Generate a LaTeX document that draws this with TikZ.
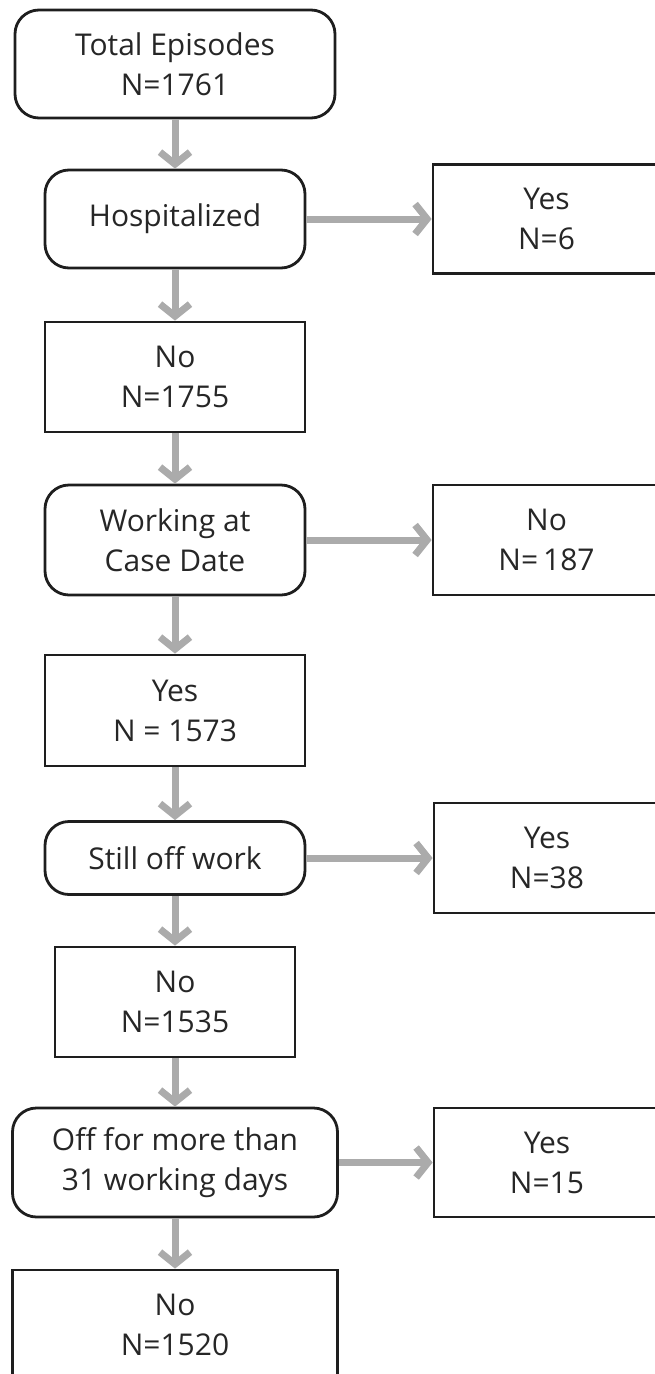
\documentclass[tikz,border=0pt]{standalone}
\usepackage{fontspec}
\setmainfont{Open Sans}
\usepackage{tikz}
\usetikzlibrary{arrows.meta}
\definecolor{arrgray}{HTML}{ABABAB}
\definecolor{boxline}{HTML}{1E1E1E}
\tikzset{
	sbox/.style 2 args={draw=boxline,line width=2.8pt,inner sep=0pt,minimum width=#1,minimum height=#2,align=center,font=\fontsize{30}{40}\selectfont,text=black!85},
	rbox/.style 2 args={sbox={#1}{#2},rounded corners=24pt},
	arr/.style={draw=arrgray,line width=7pt,-{Straight Barb[length=12pt,width=30pt]}}
}
\begin{document}
\begin{tikzpicture}[x=1pt,y=-1pt]
						\useasboundingbox (0,0) rectangle (655,1374);
						\clip (0,0) rectangle (655,1374);
						\node [rbox={320pt}{108pt}] (total) at (175,64) {Total Episodes\\N=1761};
						\node [rbox={260pt}{98pt}] (hosp) at (175,219) {Hospitalized};
						\node [sbox={227pt}{109pt}] (hospyes) at (546.5,219) {Yes\\N=6};
						\node [sbox={260pt}{110pt}] (hospno) at (175,377) {No\\N=1755};
						\node [rbox={260pt}{110pt}] (work) at (175,540) {Working at\\Case Date};
						\node [sbox={227pt}{110pt}] (workno) at (546.5,540) {No\\N=\,187};
						\node [sbox={260pt}{111pt}] (workyes) at (175,710.5) {Yes\\N = 1573};
						\node [rbox={260pt}{73pt}] (still) at (175,858) {Still off work};
						\node [sbox={226pt}{110pt}] (stillyes) at (547,858) {Yes\\N=38};
						\node [sbox={240pt}{110pt}] (stillno) at (175,1002) {No\\N=1535};
						\node [rbox={325pt}{109pt}] (off) at (175,1162.5) {Off for more than\\31 working days};
						\node [sbox={226pt}{109pt}] (offyes) at (547,1162.5) {Yes\\N=15};
						\node [sbox={325pt}{110pt}] (offno) at (175,1325) {No\\N=1520};

						\draw [arr] (total) -- (hosp);
						\draw [arr] (hosp) -- (hospno);
						\draw [arr] (hospno) -- (work);
						\draw [arr] (work) -- (workyes);
						\draw [arr] (workyes) -- (still);
						\draw [arr] (still) -- (stillno);
						\draw [arr] (stillno) -- (off);
						\draw [arr] (off) -- (offno);
						\draw [arr] (hosp) -- (hospyes);
						\draw [arr] (work) -- (workno);
						\draw [arr] (still) -- (stillyes);
						\draw [arr] (off) -- (offyes);
					\end{tikzpicture}
\end{document}
